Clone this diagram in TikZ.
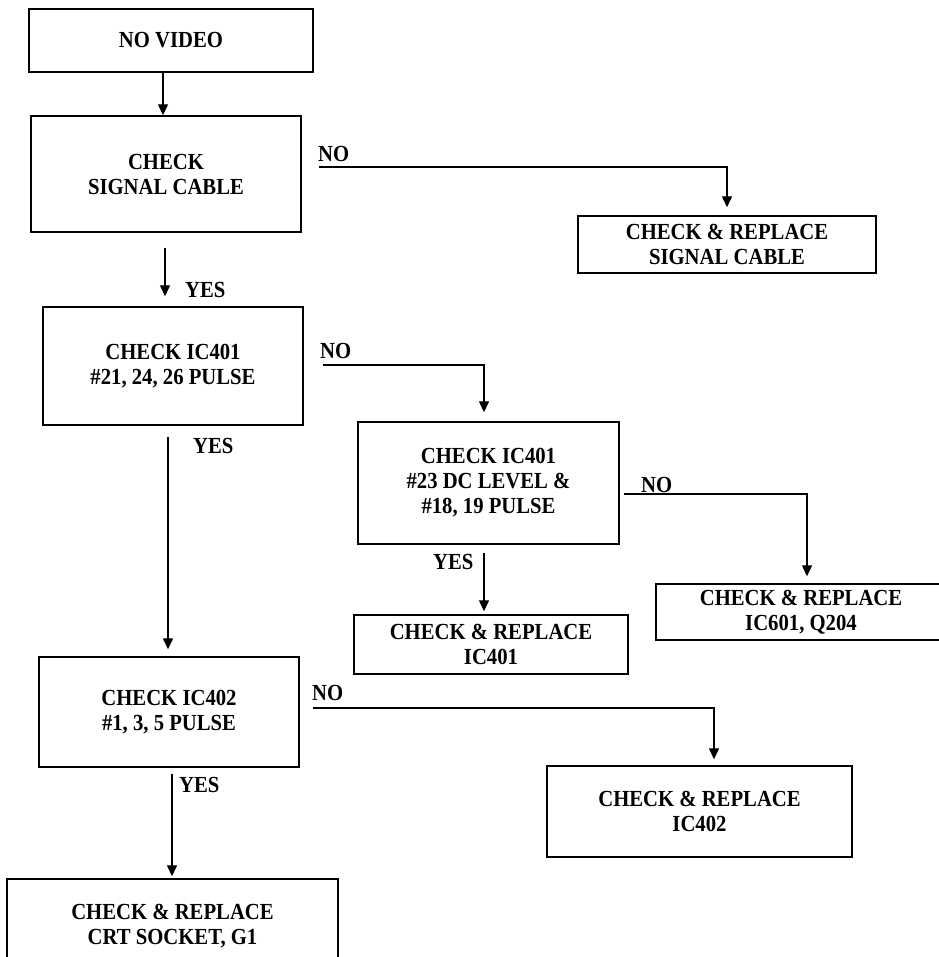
\documentclass[tikz,border=0pt]{standalone}
\usepackage{fontspec}
\newfontfamily\chartfont{Liberation Serif}[FakeStretch=0.9]
\usetikzlibrary{arrows.meta}

\tikzset{
  box/.style={draw, line width=1.4pt, inner sep=0pt, align=center,
    font=\chartfont\fontsize{23}{25}\selectfont\bfseries},
  arr/.style={line width=1.3pt, -{Triangle[width=10pt,length=11pt]}},
  lbl/.style={inner sep=0pt, font=\chartfont\fontsize{23}{25}\selectfont\bfseries}
}

\begin{document}
\begin{tikzpicture}[x=1pt,y=-1pt]
\useasboundingbox (0,0) rectangle (938,957);

% boxes
\node[box, minimum width=284pt, minimum height=63pt] (novideo) at (171,40.5) {NO VIDEO};
\node[box, minimum width=270pt, minimum height=116pt] (chksig) at (166,174) {CHECK\\SIGNAL CABLE};
\node[box, minimum width=298pt, minimum height=57pt] (rplsig) at (727,244.5) {CHECK \& REPLACE\\SIGNAL CABLE};
\node[box, minimum width=260pt, minimum height=118pt] (chk401) at (173,366) {CHECK IC401\\\#21, 24, 26 PULSE};
\node[box, minimum width=261pt, minimum height=122pt] (chkdc) at (488.5,483) {CHECK IC401\\\#23 DC LEVEL \&\\\#18, 19 PULSE};
\node[box, minimum width=290pt, minimum height=56pt] (rpl601) at (801,612) {CHECK \& REPLACE\\IC601, Q204};
\node[box, minimum width=274pt, minimum height=59pt] (rpl401) at (491,644.5) {CHECK \& REPLACE\\IC401};
\node[box, minimum width=260pt, minimum height=110pt] (chk402) at (169,712) {CHECK IC402\\\#1, 3, 5 PULSE};
\node[box, minimum width=305pt, minimum height=91pt] (rpl402) at (699.5,811.5) {CHECK \& REPLACE\\IC402};
\node[box, minimum width=331pt, minimum height=94pt] (rplcrt) at (172.5,926) {CHECK \& REPLACE\\CRT SOCKET, G1};

% connectors
\draw[arr] ([xshift=-8pt]novideo.south) -- ([xshift=-8pt]novideo.south |- chksig.north);
\draw[arr, shorten <=15pt, shorten >=10pt] ([xshift=-1pt]chksig.south) -- ([xshift=-1pt]chksig.south |- chk401.north);
\draw[arr, shorten >=8pt] ([shift={(17pt,7pt)}]chksig.east) -| (rplsig.north);
\draw[arr, shorten >=9pt] ([shift={(19pt,1pt)}]chk401.east) -| ([xshift=-4.5pt]chkdc.north);
\draw[arr, shorten <=11pt, shorten >=7pt] ([xshift=-5pt]chk401.south) -- ([xshift=-5pt]chk401.south |- chk402.north);
\draw[arr, shorten >=7pt] ([shift={(4pt,-11pt)}]chkdc.east) -| ([xshift=6pt]rpl601.north);
\draw[arr, shorten <=8pt, shorten >=3pt] ([xshift=-4.5pt]chkdc.south) -- ([xshift=-4.5pt]chkdc.south |- rpl401.north);
\draw[arr, shorten >=6pt] ([shift={(13pt,4pt)}]chk402.east) -| ([xshift=14.5pt]rpl402.north);
\draw[arr, shorten <=6pt, shorten >=2pt] ([xshift=3pt]chk402.south) -- ([xshift=3pt]chk402.south |- rplcrt.north);

% labels
\node[lbl, anchor=base west] (no1) at (318,162) {NO};
\node[lbl, anchor=base west] (no2) at (320,358) {NO};
\node[lbl, anchor=base west] (no3) at (641,492) {NO};
\node[lbl, anchor=base west] (no4) at (312,700) {NO};
\node[lbl, anchor=base west] (yes1) at (185,298) {YES};
\node[lbl, anchor=base west] (yes2) at (193,453) {YES};
\node[lbl, anchor=base west] (yes3) at (433,569) {YES};
\node[lbl, anchor=base west] (yes4) at (179,792) {YES};
\end{tikzpicture}
\end{document}
